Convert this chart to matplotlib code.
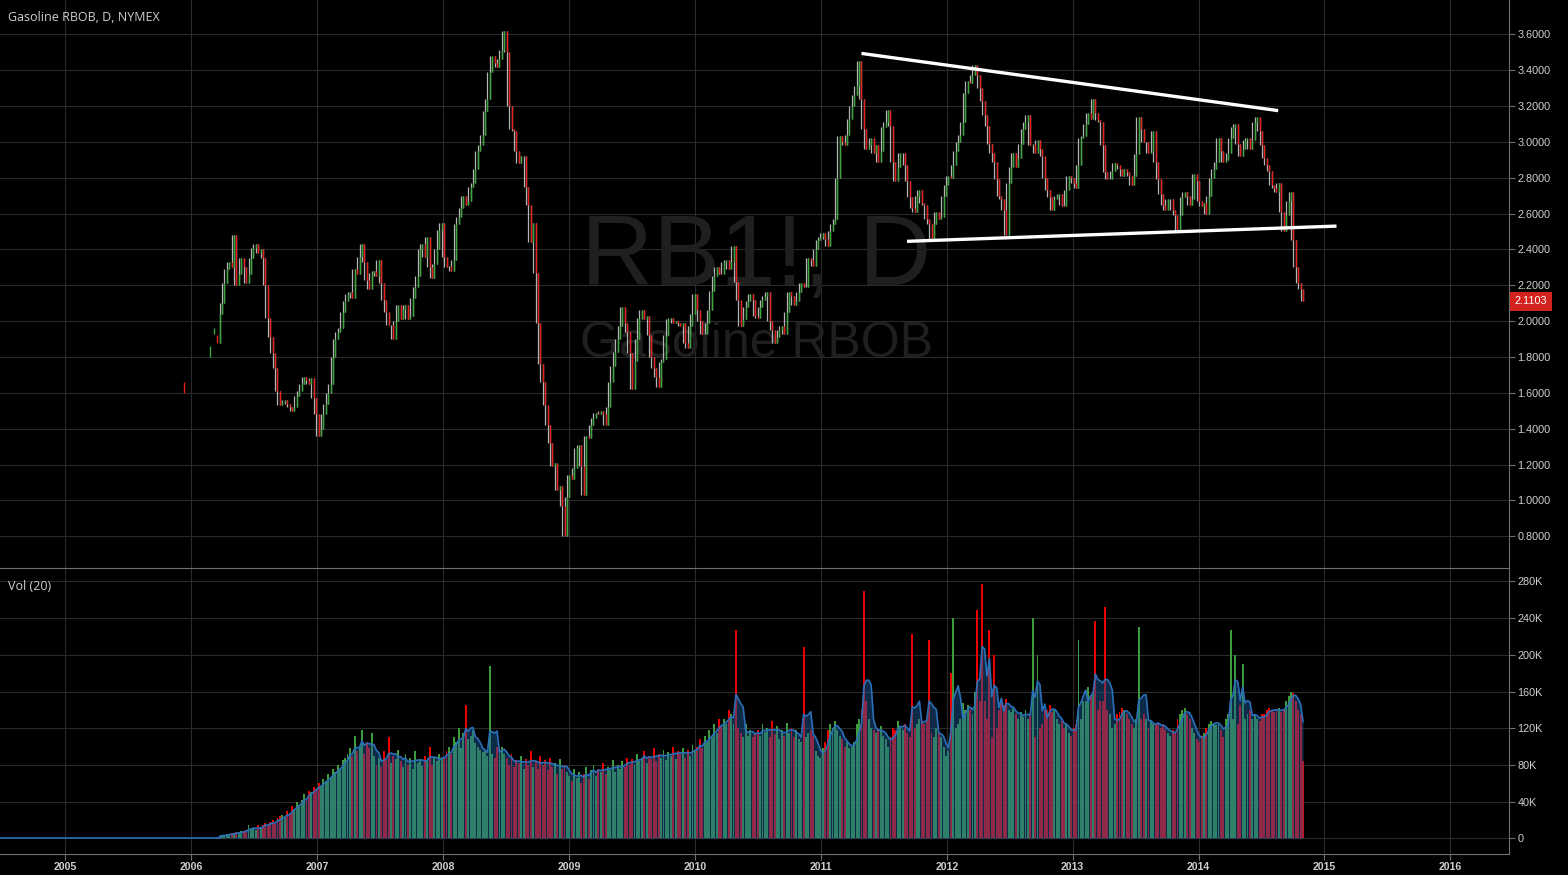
import matplotlib.pyplot as plt
import matplotlib.transforms as mtransforms
import numpy as np
import pandas as pd

# weekly closes, first week ending 2006-03-24
first_week = '2006-03-24'
close = [
    2.04, 2.10, 2.21, 2.29, 2.33, 2.30, 2.48, 2.20, 2.26, 2.35,
    2.30, 2.21, 2.26, 2.35, 2.41, 2.43, 2.38, 2.40, 2.35, 2.20,
    2.02, 1.91, 1.82, 1.74, 1.61, 1.53, 1.55, 1.56, 1.54, 1.52,
    1.50, 1.52, 1.58, 1.61, 1.65, 1.69, 1.67, 1.65, 1.68, 1.57,
    1.48, 1.36, 1.40, 1.48, 1.54, 1.60, 1.65, 1.80, 1.90, 1.94,
    1.96, 2.05, 2.11, 2.15, 2.16, 2.13, 2.29, 2.26, 2.36, 2.43,
    2.33, 2.23, 2.18, 2.27, 2.28, 2.25, 2.34, 2.21, 2.12, 2.05,
    1.98, 1.98, 1.90, 2.00, 2.09,
    2.01, 2.07, 2.09, 2.01, 2.03, 2.13, 2.19, 2.25, 2.40, 2.43,
    2.36, 2.47, 2.30, 2.24, 2.32, 2.40, 2.51, 2.55, 2.36, 2.30,
    2.31, 2.28, 2.34, 2.54, 2.58, 2.63, 2.70, 2.65, 2.67, 2.75,
    2.77, 2.85, 2.95, 2.98, 3.04, 3.17, 3.24, 3.39, 3.48, 3.44,
    3.42, 3.46, 3.51, 3.62, 3.50, 3.20, 3.07, 3.06, 2.95, 2.88,
    2.92, 2.92, 2.75, 2.65, 2.44, 2.55, 2.27, 1.99, 1.76, 1.66,
    1.53, 1.42, 1.32, 1.19, 1.21, 1.06, 1.08, 0.97, 0.80, 1.02,
    1.14, 1.12, 1.18, 1.29, 1.31, 1.19, 1.03, 1.36, 1.35, 1.42,
    1.46, 1.49, 1.48, 1.50, 1.48, 1.42, 1.52,
    1.66, 1.75, 1.83, 1.90, 1.97, 2.08, 1.99, 1.94, 1.82, 1.62,
    1.78, 1.90, 2.02, 2.06, 2.01, 2.03, 1.92, 1.80, 1.74, 1.69,
    1.63, 1.77, 1.79, 1.92, 2.01, 2.02, 1.99, 2.00, 1.99, 1.97,
    1.99, 1.88, 1.85, 1.97, 2.04, 2.15, 2.06, 2.00, 1.93, 1.93,
    1.99, 2.06, 2.17, 2.25, 2.30, 2.27, 2.26, 2.33, 2.34, 2.29,
    2.33, 2.42, 2.22, 2.12, 1.97, 2.01, 2.08, 2.11, 2.15, 2.12,
    2.03, 2.02, 2.08, 2.12, 2.14, 2.16, 2.00, 1.95, 1.88, 1.91,
    1.95, 1.97, 1.93, 2.05, 2.16, 2.14, 2.09, 2.11, 2.16, 2.21,
    2.19, 2.19, 2.35, 2.34, 2.31, 2.40, 2.45, 2.47, 2.49, 2.46,
    2.42, 2.50, 2.54, 2.57,
    2.80, 3.03, 3.00, 2.98, 3.04, 3.13, 3.20, 3.26, 3.31, 3.45,
    3.24, 3.07, 2.96, 2.98, 3.02, 2.94, 2.98, 2.89, 2.95, 3.08,
    3.11, 3.18, 3.09, 2.89, 2.78, 2.86, 2.94, 2.94, 2.87, 2.78,
    2.69, 2.63, 2.61, 2.70, 2.73, 2.66, 2.65, 2.57, 2.54, 2.46,
    2.54, 2.61, 2.57, 2.58, 2.70, 2.76, 2.81, 2.80, 2.87, 2.95,
    3.00, 3.04, 3.11, 3.27, 3.34, 3.33, 3.37, 3.43, 3.37, 3.30,
    3.23, 3.15, 3.09, 2.99, 2.94, 2.89, 2.79, 2.70, 2.68, 2.62,
    2.48, 2.77, 2.86, 2.94, 2.86, 2.91, 2.99, 3.07, 3.11, 3.15,
    2.98, 2.99, 2.94, 3.01, 2.96, 2.92, 2.80, 2.73, 2.69, 2.62,
    2.68, 2.70, 2.71, 2.65, 2.64, 2.73, 2.81, 2.80, 2.77, 2.74,
    2.87, 3.02, 3.03, 3.10, 3.16, 3.13, 3.24, 3.16, 3.12, 3.11,
    2.98, 2.83, 2.79, 2.79, 2.84, 2.88, 2.87, 2.85, 2.81, 2.85,
    2.83, 2.81, 2.76, 2.81, 2.93, 3.14, 3.07, 3.00, 3.00, 2.94,
    2.95, 3.06, 2.89, 2.79, 2.71, 2.65, 2.62, 2.68, 2.68, 2.62,
    2.59, 2.50, 2.59, 2.69, 2.72, 2.70, 2.65, 2.68, 2.82, 2.78,
    2.67, 2.64, 2.66, 2.60, 2.70, 2.80, 2.85, 2.89, 3.02, 2.95,
    2.89, 2.90, 2.94, 3.02, 3.08, 3.10, 2.99, 2.92, 2.96, 3.01,
    3.02, 2.96, 3.01, 3.11, 3.14, 3.06, 2.98, 2.91, 2.87, 2.84,
    2.76, 2.74, 2.72, 2.77, 2.61, 2.50, 2.59, 2.67, 2.72, 2.45,
    2.30, 2.21, 2.18, 2.1103,
]

# volume per week, thousands of contracts
volume_k = [
    2, 4, 3, 5, 4, 6, 5, 7, 6, 8, 7, 9, 14, 10,
    11, 9, 14, 12, 15, 17, 13, 18, 20, 16, 22, 24,
    25, 22, 30, 27, 35, 32, 40, 36, 42, 48, 44, 52, 50, 56,
    54, 60, 57, 65, 62, 70, 66, 75, 72, 80, 76, 85, 88,
    92, 98, 90, 112, 95, 100, 118, 92, 105, 98, 115, 90,
    80, 88, 78, 95, 85, 110, 82, 90, 86, 96,
    84, 78, 92, 80, 88, 76, 95, 82, 86, 79, 90, 85, 100, 80, 88, 84, 92, 86,
    88, 95, 100, 92, 110, 105, 120, 98, 115, 145, 108, 112, 118, 104,
    100, 96, 94, 95, 90, 188, 92, 88, 100, 96, 100, 92,
    88, 80, 92, 78, 85, 82, 90, 76, 86, 80, 95, 78, 84, 76, 90, 80, 85, 74, 88, 78, 82, 70, 86, 76, 80, 72,
    68, 62, 75, 66, 72, 60, 70, 78, 65, 74, 80, 68, 76, 72, 82, 70, 78, 74, 85, 72, 80, 76, 84, 78, 88, 80,
    86, 80, 92, 84, 88, 95, 82, 90, 86, 98, 84, 92, 88, 96, 85, 94, 90, 100, 86, 95, 92, 98, 88, 96, 90, 102,
    95, 100, 108, 98, 112, 105, 118, 110, 125, 115, 130, 122, 130, 125, 140,
    135, 125, 227, 120, 115, 110, 125, 112, 118, 110, 115,
    118, 112, 125, 116, 120, 110, 128, 114, 122, 108, 118, 112, 126, 115, 120, 110, 118, 108,
    105, 209, 110, 115, 118, 112, 95, 90, 88, 98,
    105, 118, 125, 120, 128, 118, 112, 108, 100, 105,
    98, 100, 105, 125, 130, 140, 269, 150, 130, 120,
    118, 115, 118, 122, 112, 108, 100, 110, 120, 118,
    128, 122, 118, 125, 115, 110, 223, 120, 125, 130,
    128, 125, 130, 216, 115, 110, 120, 115, 110, 100,
    90, 95, 180, 240, 120, 125, 130, 148, 140, 145,
    140, 135, 160, 249, 150, 277, 150, 130, 227, 110,
    200, 120, 140, 150, 145, 152, 140, 138, 142, 135,
    130, 138, 132, 140, 130, 135, 240, 110, 200, 120,
    125, 140, 140, 145, 138, 140, 130, 125, 128, 120,
    125, 115, 112, 120, 125, 216, 130, 150, 150, 165,
    155, 160, 237, 140, 150, 150, 252, 140, 135, 120,
    125, 135, 138, 142, 140, 135, 130, 125, 120, 130,
    230, 130, 135, 130, 120, 128, 125, 124, 126, 120,
    124, 118, 115, 112, 118, 115, 130, 135, 140, 142,
    135, 130, 120, 115, 108, 105, 112, 115, 120, 125,
    128, 126, 124, 125, 118, 110, 130, 135, 227, 130,
    200, 125, 145, 190, 130, 135, 140, 130, 135, 130,
    128, 136, 135, 140, 142, 140, 138, 140, 142, 138,
    140, 150, 155, 160, 158, 150, 140, 135, 84,
]

# a few isolated early prints before continuous trading
early_days = ['2005-12-12', '2006-02-24', '2006-03-07', '2006-03-16']
early_open = [1.66, 1.80, 1.93, 1.92]
early_close = [1.60, 1.86, 1.96, 1.88]

volume_start = '2004-06-25'   # zero volume from here until first_week

# hand-drawn trend lines
upper_line_dates = ['2011-04-29', '2014-08-20']
upper_line_prices = [3.493, 3.174]
lower_line_dates = ['2011-09-08', '2015-02-05']
lower_line_prices = [2.445, 2.530]

price_ticks = [0.8, 1.0, 1.2, 1.4, 1.6, 1.8, 2.0, 2.2, 2.4, 2.6, 2.8, 3.0, 3.2, 3.4, 3.6]
vol_ticks = [0, 40, 80, 120, 160, 200, 240, 280]
year_ticks = list(range(2005, 2017))


def year_frac(dates):
    d = pd.DatetimeIndex(pd.to_datetime(dates))
    days = np.where(d.is_leap_year, 366, 365)
    return np.asarray(d.year + (d.dayofyear - 1) / days, dtype=float)


BG = '#000000'
GRID = '#2a2a2a'
TXT = '#cfcfcf'
SPINE = '#6e6e6e'
UP = '#38a83a'
DOWN = '#e8201c'

plt.rcParams['font.family'] = ['Liberation Sans', 'DejaVu Sans']

fig = plt.figure(figsize=(15.68, 8.75), dpi=100, facecolor=BG)
ax = fig.add_axes([0, 1 - 568 / 875, 1509 / 1568, 568 / 875])
axv = fig.add_axes([0, 21 / 875, 1509 / 1568, 286 / 875])

weeks = pd.date_range(first_week, periods=len(close), freq='W-FRI')
t = year_frac(weeks)
c = np.array(close)
o = np.r_[early_close[-1], c[:-1]]
nxt = np.r_[c[1:], c[-1]]
hi = np.maximum.reduce([o, c, nxt])
lo = np.minimum.reduce([o, c, nxt])
up = c >= o

x_left, x_right = 2004.481, 2016.466

for a in (ax, axv):
    a.set_facecolor(BG)
    a.set_xlim(x_left, x_right)
    a.set_xticks(year_ticks)
    a.grid(True, color=GRID, lw=0.8)
    a.set_axisbelow(True)
    a.yaxis.tick_right()
    a.tick_params(axis='y', colors=SPINE, labelcolor=TXT, labelsize=7.8, length=4, pad=2)
    for s in ('left', 'top', 'bottom'):
        a.spines[s].set_visible(False)
    a.spines['right'].set_color(SPINE)

# price pane
ax.set_ylim(0.623, 3.791)
ax.set_yticks(price_ticks)
ax.set_yticklabels(['%.4f' % p for p in price_ticks])
ax.tick_params(axis='x', length=0, labelbottom=False)

ax.text(0.501, 0.498, 'RB1!, D', transform=ax.transAxes, ha='center', va='baseline',
        fontsize=72, color='#1f1f1f', zorder=1)
ax.text(0.501, 0.3715, 'Gasoline RBOB', transform=ax.transAxes, ha='center', va='baseline',
        fontsize=36, color='#1f1f1f', zorder=1)

ax.vlines(t, lo, hi, colors='#b4b4b4', lw=0.9, zorder=3)
ax.vlines(t, np.minimum(o, c), np.maximum(o, c), colors=np.where(up, UP, DOWN), lw=1.0, zorder=4)

te = year_frac(early_days)
ax.vlines(te, np.minimum(early_open, early_close), np.maximum(early_open, early_close),
          colors=[UP if cl >= op else DOWN for op, cl in zip(early_open, early_close)], lw=1.0, zorder=4)

ax.plot(year_frac(upper_line_dates), upper_line_prices, color='white', lw=2.4,
        solid_capstyle='butt', zorder=6)
ax.plot(year_frac(lower_line_dates), lower_line_prices, color='white', lw=2.4,
        solid_capstyle='butt', zorder=6)

trans = mtransforms.blended_transform_factory(ax.transAxes, ax.transData)
ax.annotate('%.4f' % close[-1], xy=(1.0, close[-1]), xycoords=trans, xytext=(4, 0),
            textcoords='offset points', ha='left', va='center', color='white', fontsize=7.8,
            bbox=dict(boxstyle='square,pad=0.4', fc='#d3231f', ec='none'), annotation_clip=False)

fig.text(8 / 1568, 1 - 21 / 875, 'Gasoline RBOB, D, NYMEX', family='Open Sans',
         fontsize=9, color=TXT, va='baseline')

# volume pane
axv.set_ylim(-17.1, 294.6)
axv.set_yticks(vol_ticks)
axv.set_yticklabels(['0' if v == 0 else '%dK' % v for v in vol_ticks])
axv.spines['top'].set_visible(True)
axv.spines['top'].set_color(SPINE)
axv.spines['bottom'].set_visible(True)
axv.spines['bottom'].set_color(SPINE)
axv.tick_params(axis='x', colors=SPINE, labelcolor=TXT, labelsize=7.6, length=4, pad=2)
for lab in axv.get_xticklabels():
    lab.set_fontweight('bold')

vol = np.array(volume_k, dtype=float)
axv.bar(t, vol, width=0.8 * 7 / 365.25, color=np.where(up, '#3c9c3c', '#eb0000'), lw=0, zorder=2)
ma = pd.Series(vol).rolling(4, min_periods=1).mean().values
axv.fill_between(t, 0, ma, color='#1e5fa0', alpha=0.45, lw=0, zorder=3)
axv.plot(t, ma, color='#2a6fb8', lw=1.2, zorder=4)
axv.plot(year_frac([volume_start, first_week]), [0, 0], color='#2a6fb8', lw=1.2, zorder=4)

fig.text(8 / 1568, 1 - 590 / 875, 'Vol (20)', family='Open Sans', fontsize=9, color=TXT,
         va='baseline')

fig.savefig('out.png', dpi=100, facecolor=BG)
